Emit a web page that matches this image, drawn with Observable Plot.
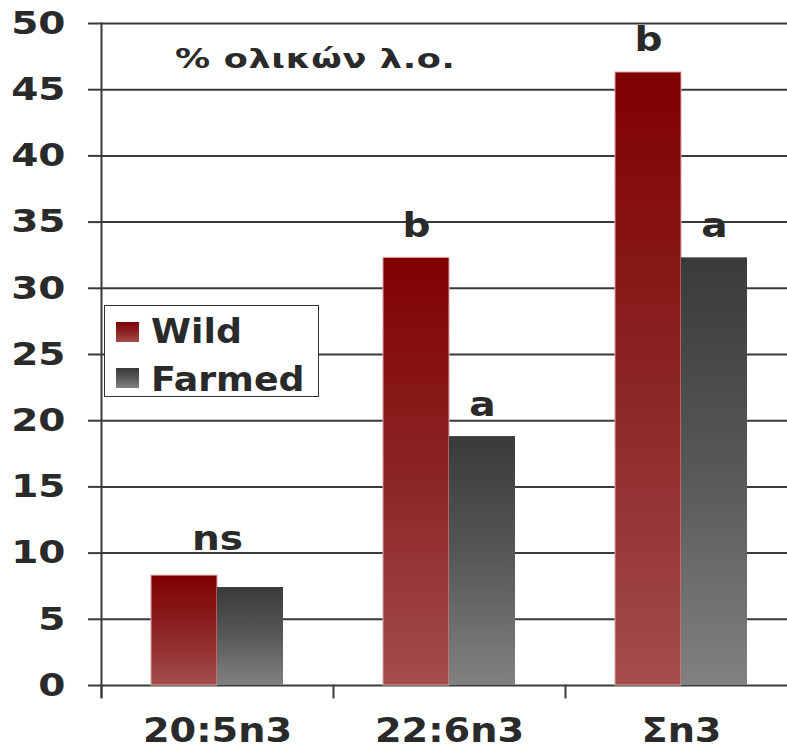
<!DOCTYPE html>
<html>
<head>
<meta charset="utf-8">
<script src="https://cdn.jsdelivr.net/npm/d3@7"></script>
<script src="https://cdn.jsdelivr.net/npm/@observablehq/plot@0.6"></script>
<style>
  html, body { margin: 0; padding: 0; background: #fff; overflow: hidden; }
  #chart { position: relative; width: 787px; height: 747px; font-family: "DejaVu Sans", sans-serif; color: #2a2a2a; }
  #chart svg { position: absolute; left: 0; top: 0; }
  #chart svg text { font-weight: bold; }
  .title { position: absolute; left: 175px; top: 45px; font-size: 27px; line-height: 27px; font-weight: bold; letter-spacing: 0.5px; white-space: nowrap; transform: scaleX(1.3); transform-origin: 0 50%; }
  .legend { position: absolute; left: 104px; top: 305px; width: 213px; height: 90px; border: 1.5px solid #333; background: #fff; }
  .legend .swatch { position: absolute; left: 11px; width: 23px; height: 20px; }
  .legend .label { position: absolute; left: 46px; font-size: 33px; line-height: 34px; font-weight: bold; white-space: nowrap; transform: scaleX(1.1); transform-origin: 0 50%; }
</style>
</head>
<body>
<div id="chart"></div>
<script>
// Long-chain n-3 fatty acids, % of total fatty acids, wild vs farmed fish
const categories = ["20:5n3", "22:6n3", "Σn3"];
const series = ["Wild", "Farmed"];
const wildValues = [8.3, 32.3, 46.3];
const farmedValues = [7.4, 18.8, 32.3];
// significance letters per bar, and one shared letter per group
const wildLetters = ["", "b", "b"];
const farmedLetters = ["", "a", "a"];
const groupLetters = ["ns", "", ""];
const yTicks = [0, 5, 10, 15, 20, 25, 30, 35, 40, 45, 50];
const titleText = "% ολικών λ.ο.";

const gradients = {
  Wild: [["0%", "#800000"], ["50%", "#8b2424"], ["100%", "#a44c4c"]],
  Farmed: [["0%", "#3a3a3a"], ["50%", "#585858"], ["100%", "#818181"]]
};
const gradientId = {Wild: "grad-wild", Farmed: "grad-farmed"};

const bars = categories.flatMap((c, i) => [
  {category: c, series: "Wild", value: wildValues[i], letter: wildLetters[i]},
  {category: c, series: "Farmed", value: farmedValues[i], letter: farmedLetters[i]}
]);
const groups = categories.map((c, i) => ({
  category: c,
  value: Math.max(wildValues[i], farmedValues[i]),
  letter: groupLetters[i]
}));

const ink = "#2a2a2a";
const line = "#3a3a3a";

const plot = Plot.plot({
  width: 787,
  height: 747,
  marginLeft: 101,
  marginRight: -10,
  marginTop: 23,
  marginBottom: 62,
  style: {fontFamily: "DejaVu Sans", color: ink, background: "white", overflow: "hidden"},
  fx: {domain: categories, padding: 0, label: null},
  x: {domain: series, paddingInner: 0, paddingOuter: 0.745, axis: null},
  y: {domain: [0, 50], axis: null},
  marks: [
    Plot.ruleY(yTicks, {stroke: line, strokeWidth: 2}),
    Plot.barY(bars.filter(d => d.series === "Wild"), {
      fx: "category", x: "series", y: "value",
      fill: `url(#${gradientId.Wild})`, stroke: "#d9a3a3", strokeWidth: 1
    }),
    Plot.barY(bars.filter(d => d.series === "Farmed"), {
      fx: "category", x: "series", y: "value",
      fill: `url(#${gradientId.Farmed})`
    }),
    // vertical axis line, and the short ticks between category groups
    Plot.frame({anchor: "left", facet: "super", stroke: line, strokeWidth: 2, insetBottom: -11}),
    Plot.frame({anchor: "left", stroke: line, strokeWidth: 2, insetTop: 662, insetBottom: -12}),
    Plot.axisY({ticks: yTicks, tickSize: 13, tickPadding: 23, fontSize: 32, stroke: line, strokeWidth: 2, label: null}),
    Plot.axisFx({anchor: "bottom", tickSize: 0, tickPadding: 33, fontSize: 33, label: null}),
    Plot.text(bars.filter(d => d.letter), {
      fx: "category", x: "series", y: "value", text: "letter",
      lineAnchor: "bottom", dy: -21, fontSize: 34, fontWeight: "bold", fill: ink
    }),
    Plot.text(groups.filter(d => d.letter), {
      fx: "category", y: "value", text: "letter",
      lineAnchor: "bottom", dy: -26, fontSize: 34, fontWeight: "bold", fill: ink
    })
  ]
});

// vertical gradients for the bar fills, one per series
const defs = d3.select(plot).insert("defs", ":first-child");
for (const s of series) {
  const g = defs.append("linearGradient")
    .attr("id", gradientId[s])
    .attr("x1", 0).attr("y1", 0).attr("x2", 0).attr("y2", 1);
  for (const [offset, color] of gradients[s]) {
    g.append("stop").attr("offset", offset).attr("stop-color", color);
  }
}

// widen the bold lettering horizontally about each text's anchor point
const widen = {"y-axis tick label": 1.22, "fx-axis tick label": 1.16};
d3.select(plot).selectAll("text").each(function () {
  const group = this.closest("[aria-label]");
  const kind = group ? group.getAttribute("aria-label") : "";
  const sx = widen[kind] ?? 1.15;
  let x = parseFloat(this.getAttribute("x"));
  if (!isFinite(x)) x = 0;
  const t = this.getAttribute("transform") || "";
  this.setAttribute("transform", `${t} translate(${x},0) scale(${sx},1) translate(${-x},0)`.trim());
});

const chart = document.getElementById("chart");
chart.appendChild(plot);

const title = document.createElement("div");
title.className = "title";
title.textContent = titleText;
chart.appendChild(title);

// legend box
const legend = document.createElement("div");
legend.className = "legend";
series.forEach((s, i) => {
  const stops = gradients[s].map(([o, c]) => `${c} ${o}`).join(", ");
  const sw = document.createElement("div");
  sw.className = "swatch";
  sw.style.top = `${16 + i * 46}px`;
  sw.style.background = `linear-gradient(to bottom, ${stops})`;
  legend.appendChild(sw);
  const lab = document.createElement("div");
  lab.className = "label";
  lab.style.top = `${9 + i * 48}px`;
  lab.textContent = s;
  legend.appendChild(lab);
});
chart.appendChild(legend);
</script>
</body>
</html>
